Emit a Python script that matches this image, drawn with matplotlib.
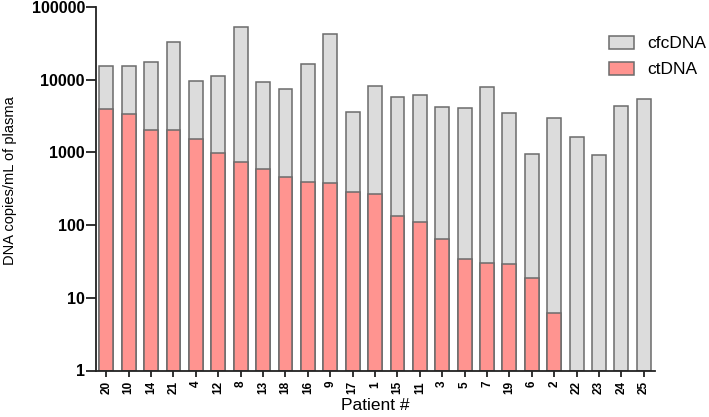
import matplotlib.pyplot as plt
import numpy as np

plt.rcParams['font.family'] = ['Liberation Sans', 'DejaVu Sans']

# Patient order as shown on the x axis
patients = ['20', '10', '14', '21', '4', '12', '8', '13', '18', '16', '9', '17', '1',
            '15', '11', '3', '5', '7', '19', '6', '2', '22', '23', '24', '25']

# total cell-free DNA (copies/mL)
cfcdna = [15400, 15400, 17500, 33300, 9700, 11100, 53000, 9200, 7500, 16600, 43000, 3600, 8100,
          5730, 6100, 4250, 4040, 7940, 3520, 942, 2970, 1640, 912, 4390, 5370]

# circulating tumour DNA (copies/mL), none detected for the last four
ctdna = [3950, 3370, 2050, 2050, 1530, 990, 745, 597, 463, 395, 376, 288, 268,
         134, 110, 65, 34, 29.8, 29.2, 18.7, 6.1, 0, 0, 0, 0]

fig = plt.figure(figsize=(7.09, 4.17), dpi=100)
ax = fig.add_axes([96 / 709, 1 - 370.5 / 417, (655 - 96) / 709, (370.5 - 7) / 417])

x = np.arange(len(patients))
edge = '#6b6b6b'
ax.bar(x, cfcdna, width=0.62, bottom=1, color='#dcdcdc', edgecolor=edge, linewidth=1.1, label='cfcDNA')
ct = np.array(ctdna, dtype=float)
mask = ct > 0
ax.bar(x[mask], ct[mask] - 1, width=0.62, bottom=1, color='#ff9490', edgecolor=edge, linewidth=1.1,
       label='ctDNA')

ax.set_yscale('log')
ax.set_ylim(1, 100000)
ax.set_xlim(-0.46, 24.5)
ax.set_yticks([1, 10, 100, 1000, 10000, 100000])
ax.set_yticklabels(['1', '10', '100', '1000', '10000', '100000'], fontweight='bold', fontsize=11.5)
ax.minorticks_off()
ax.set_xticks(x)
ax.set_xticklabels(patients, rotation=90, fontweight='bold', fontsize=8.5)

for s in ['top', 'right']:
    ax.spines[s].set_visible(False)
for s in ['left', 'bottom']:
    ax.spines[s].set_linewidth(1.3)
    ax.spines[s].set_color('#222222')
ax.tick_params(axis='both', direction='out', width=1.3, color='#222222')
ax.tick_params(axis='y', length=7, pad=1)
ax.tick_params(axis='x', length=4)

ax.set_ylabel('DNA copies/mL of plasma', fontsize=10.5)
ax.yaxis.set_label_coords(17 / 709, 1 - 181 / 417, transform=fig.transFigure)
ax.set_xlabel('Patient #', fontsize=12.5, labelpad=3)

ax.legend(loc='upper left', bbox_to_anchor=(609 / 709, 1 - 36 / 417), bbox_transform=fig.transFigure,
          frameon=False, fontsize=12.5, handlelength=1.45, handleheight=0.75, handletextpad=0.75,
          labelspacing=0.6, borderpad=0, borderaxespad=0)

fig.savefig('out.png', dpi=100)
